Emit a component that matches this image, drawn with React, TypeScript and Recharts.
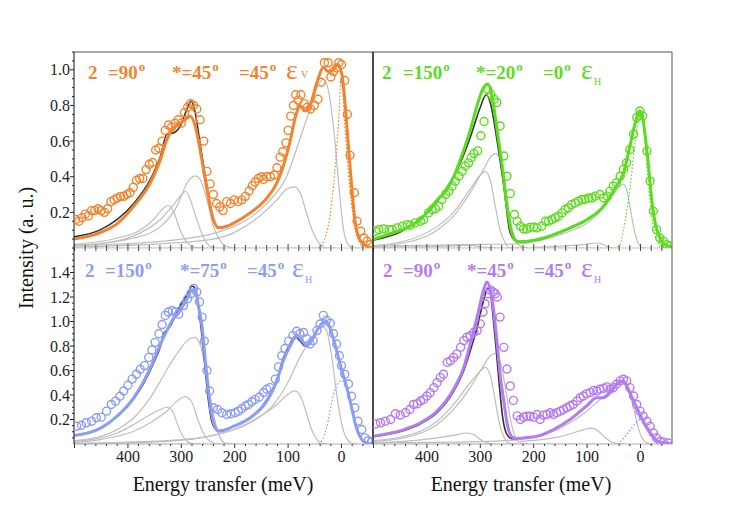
import React from "react";
import { ComposedChart, Line, Scatter, XAxis, YAxis } from "recharts";

type P = [number, number];

const ORANGE = "#F0842F";
const GREEN = "#5CDC1E";
const BLUE = "#8B9DF4";
const PURPLE = "#B57BF1";
const GRAY = "#BEBEBE";
const DARK = "#333333";

// ---- top left: 2θ=90°, θ*=45°, φ=45°, εV ----
const tlCircles: P[] = [
  [498, 0.16], [492, 0.15], [486, 0.17], [480, 0.19], [474, 0.18], [468, 0.21], [462, 0.21], [456, 0.22],
  [450, 0.21], [444, 0.2], [438, 0.22], [432, 0.26], [426, 0.27], [420, 0.28], [414, 0.29], [408, 0.29],
  [402, 0.3], [396, 0.31], [390, 0.34], [384, 0.38], [378, 0.39], [372, 0.39], [366, 0.44], [360, 0.47],
  [354, 0.48], [348, 0.55], [342, 0.56], [336, 0.6], [330, 0.66], [324, 0.69], [318, 0.68], [312, 0.7],
  [306, 0.72], [300, 0.7], [294, 0.76], [288, 0.79], [283, 0.81], [277, 0.8], [271, 0.78], [265, 0.72],
  [258, 0.6], [252, 0.43], [246, 0.36], [240, 0.3], [234, 0.25], [228, 0.23], [222, 0.21], [215, 0.26],
  [208, 0.25], [201, 0.27], [194, 0.26], [187, 0.27], [180, 0.29], [173, 0.32], [167, 0.35], [162, 0.37],
  [156, 0.39], [150, 0.4], [146, 0.385], [140, 0.4], [133, 0.4], [126, 0.41], [121, 0.45], [115, 0.51],
  [110, 0.54], [104, 0.59], [100, 0.66], [95, 0.74], [90, 0.8], [86, 0.86], [81, 0.83], [76, 0.86],
  [70, 0.81], [64, 0.79], [58, 0.78], [51, 0.8], [44, 0.835], [38, 0.93], [32, 1.04], [25, 1.04],
  [20, 0.96], [15, 0.99], [9, 1.01], [5, 1.04], [0, 1.03], [-6, 0.94], [-11, 0.75], [-16, 0.52],
  [-24, 0.31], [-29, 0.15], [-36, 0.094], [-42, 0.056], [-48, 0.038], [-54, 0.02],
];
const tlFit: P[] = [
  [502, 0.05], [451, 0.088], [420, 0.137], [389, 0.235], [358, 0.366], [339, 0.497], [327, 0.61], [314, 0.675],
  [302, 0.7], [289, 0.73], [283, 0.74], [274, 0.685], [265, 0.553], [252, 0.33], [240, 0.16], [230, 0.113],
  [215, 0.122], [202, 0.14], [171, 0.197], [140, 0.28], [121, 0.366], [109, 0.46], [97, 0.59], [84, 0.76],
  [78, 0.8], [69, 0.77], [59, 0.8], [46, 0.93], [34, 1.013], [25, 0.99], [15, 1.0], [8, 1.03], [0, 0.985],
  [-6, 0.835], [-12, 0.61], [-19, 0.347], [-25, 0.16], [-34, 0.047], [-47, 0.01], [-60, 0],
];
const tlBlack: P[] = [
  [502, 0.062], [451, 0.103], [420, 0.16], [389, 0.25], [358, 0.385], [339, 0.515], [327, 0.64], [314, 0.647],
  [302, 0.685], [292, 0.76], [282, 0.825], [274, 0.76], [265, 0.59], [252, 0.347], [240, 0.16], [230, 0.11],
];
const tlElastic: P[] = [
  [502, 0], [44, 0], [28, 0.084], [15, 0.347], [6, 0.685], [0, 0.96], [-6, 0.69], [-15, 0.35], [-28, 0.08],
  [-44, 0], [-60, 0],
];
const tlGray1: P[] = [
  [502, 0.02], [420, 0.056], [377, 0.1], [352, 0.16], [333, 0.225], [325, 0.24], [314, 0.2], [302, 0.1],
  [289, 0.03], [277, 0.005], [260, 0],
];
const tlGray2: P[] = [
  [502, 0.013], [420, 0.04], [377, 0.085], [339, 0.16], [314, 0.245], [296, 0.31], [292, 0.32], [283, 0.27],
  [271, 0.16], [258, 0.056], [246, 0.01], [235, 0],
];
const tlGray3: P[] = [
  [502, 0.013], [389, 0.056], [339, 0.12], [308, 0.235], [289, 0.366], [274, 0.405], [265, 0.385], [252, 0.27],
  [240, 0.12], [227, 0.04], [215, 0.01], [200, 0],
];
const tlGray4: P[] = [
  [502, 0.005], [265, 0.04], [202, 0.085], [153, 0.18], [121, 0.27], [103, 0.33], [87, 0.343], [75, 0.29],
  [66, 0.2], [53, 0.085], [40, 0.02], [27, 0], [10, 0],
];
const tlGray5: P[] = [
  [502, 0.013], [327, 0.04], [202, 0.12], [140, 0.25], [103, 0.4], [78, 0.61], [59, 0.78], [43, 0.92],
  [34, 0.947], [25, 0.89], [15, 0.68], [6, 0.385], [-3, 0.12], [-12, 0.02], [-22, 0], [-40, 0],
];

// ---- top right: 2θ=150°, θ*=20°, φ=0°, εH ----
const trCircles: P[] = [
  [496, 0.094], [490, 0.103], [481, 0.107], [471, 0.103], [465, 0.103], [456, 0.113], [446, 0.122], [437, 0.131],
  [431, 0.128], [422, 0.141], [412, 0.15], [406, 0.159], [397, 0.197], [390, 0.216], [384, 0.22], [378, 0.235],
  [372, 0.272], [365, 0.3], [359, 0.319], [353, 0.347], [347, 0.375], [340, 0.403], [334, 0.43], [328, 0.46],
  [322, 0.478], [317, 0.507], [312, 0.53], [305, 0.545], [299, 0.63], [293, 0.71], [286, 0.89], [280, 0.86],
  [274, 0.835], [269, 0.816], [263, 0.685], [256, 0.516], [250, 0.403], [244, 0.306], [236, 0.188], [231, 0.15],
  [225, 0.122], [219, 0.107], [213, 0.107], [207, 0.116], [200, 0.118], [194, 0.113], [185, 0.122], [178, 0.15],
  [172, 0.15], [166, 0.159], [160, 0.169], [154, 0.178], [147, 0.197], [141, 0.216], [135, 0.225], [129, 0.244],
  [122, 0.253], [116, 0.263], [110, 0.272], [104, 0.272], [97, 0.281], [91, 0.281], [85, 0.291], [76, 0.3],
  [69, 0.281], [62, 0.291], [57, 0.319], [51, 0.347], [45, 0.366], [38, 0.403], [32, 0.441], [26, 0.478],
  [20, 0.553], [13, 0.638], [7, 0.732], [1, 0.769], [-4, 0.741], [-12, 0.544], [-18, 0.375], [-24, 0.206],
  [-30, 0.103], [-36, 0.056], [-43, 0.038], [-49, 0.019], [-55, 0.013],
];
const trFit: P[] = [
  [502, 0.047], [474, 0.075], [443, 0.107], [412, 0.16], [381, 0.27], [362, 0.33], [350, 0.4], [337, 0.5],
  [319, 0.66], [306, 0.8], [294, 0.9], [286, 0.92], [278, 0.85], [269, 0.67], [259, 0.46], [250, 0.235],
  [241, 0.084], [231, 0.038], [219, 0.036], [194, 0.047], [163, 0.075], [132, 0.113], [100, 0.16], [69, 0.235],
  [45, 0.35], [32, 0.42], [20, 0.57], [10, 0.7], [2, 0.77], [-2, 0.76], [-8, 0.65], [-15, 0.46], [-21, 0.27],
  [-29, 0.12], [-38, 0.047], [-49, 0.015], [-60, 0.004],
];
const trBlack: P[] = [
  [502, 0.043], [443, 0.1], [381, 0.26], [337, 0.48], [319, 0.62], [300, 0.79], [289, 0.86], [280, 0.8],
  [269, 0.61], [256, 0.347], [244, 0.084], [231, 0.035], [194, 0.045], [163, 0.073], [132, 0.11], [100, 0.158],
  [69, 0.232],
];
const trElastic: P[] = [
  [502, 0], [48, 0], [38, 0.02], [32, 0.1], [20, 0.33], [10, 0.59], [4, 0.72], [0, 0.75], [-5, 0.7],
  [-12, 0.46], [-20, 0.2], [-30, 0.05], [-40, 0], [-60, 0],
];
const trGray1: P[] = [
  [502, 0.013], [443, 0.038], [381, 0.12], [350, 0.2], [319, 0.33], [300, 0.41], [291, 0.43], [281, 0.375],
  [272, 0.235], [263, 0.1], [253, 0.028], [244, 0], [220, 0],
];
const trGray2: P[] = [
  [502, 0.01], [443, 0.028], [381, 0.1], [350, 0.18], [319, 0.31], [294, 0.44], [281, 0.51], [272, 0.53],
  [263, 0.5], [253, 0.35], [244, 0.16], [234, 0.047], [225, 0.01], [210, 0],
];
const trGray3: P[] = [
  [502, 0.005], [400, 0.008], [340, 0.013], [320, 0.016], [305, 0.01], [290, 0.003], [270, 0],
];
const trGray4: P[] = [
  [200, 0.003], [140, 0.012], [100, 0.022], [82, 0.028], [70, 0.02], [60, 0.005], [50, 0],
];
const trGray5: P[] = [
  [502, 0.01], [300, 0.02], [225, 0.024], [163, 0.062], [132, 0.094], [100, 0.14], [69, 0.225], [51, 0.3],
  [38, 0.347], [32, 0.357], [26, 0.33], [20, 0.235], [13, 0.12], [7, 0.047], [-2, 0.005], [-10, 0],
];

// ---- bottom left: 2θ=150°, θ*=75°, φ=45°, εH ----
const blCircles: P[] = [
  [496, 0.145], [487, 0.153], [478, 0.173], [468, 0.186], [459, 0.214], [450, 0.219], [440, 0.268], [431, 0.323],
  [423, 0.35], [415, 0.39], [408, 0.433], [400, 0.48], [392, 0.53], [384, 0.57], [377, 0.61], [369, 0.64],
  [361, 0.707], [355, 0.767], [349, 0.83], [342, 0.9], [336, 0.975], [330, 1.05], [324, 1.077], [317, 1.09],
  [311, 1.077], [305, 1.06], [296, 1.13], [288, 1.186], [282, 1.227], [277, 1.27], [271, 1.24], [266, 1.16],
  [261, 1.036], [257, 0.84], [252, 0.6], [247, 0.433], [240, 0.296], [232, 0.282], [224, 0.255], [215, 0.241],
  [207, 0.247], [199, 0.255], [193, 0.268], [187, 0.288], [180, 0.31], [174, 0.323], [168, 0.345], [162, 0.364],
  [154, 0.384], [146, 0.42], [140, 0.447], [134, 0.46], [124, 0.53], [118, 0.63], [112, 0.72], [106, 0.78],
  [99, 0.84], [91, 0.885], [84, 0.92], [78, 0.9], [71, 0.91], [65, 0.86], [59, 0.816], [53, 0.844],
  [46, 0.926], [40, 0.98], [34, 1.05], [28, 1.01], [21, 0.986], [15, 0.9], [9, 0.816], [4, 0.72],
  [0, 0.64], [-6, 0.57], [-13, 0.49], [-19, 0.39], [-25, 0.296], [-31, 0.186], [-38, 0.118], [-44, 0.05],
  [-50, 0.027], [-56, 0.016],
];
const blFit: P[] = [
  [502, 0.068], [451, 0.13], [420, 0.227], [389, 0.378], [370, 0.515], [352, 0.68], [339, 0.816], [327, 0.926],
  [314, 1.03], [302, 1.09], [289, 1.186], [280, 1.26], [274, 1.255], [268, 1.13], [261, 0.953], [255, 0.68],
  [249, 0.433], [243, 0.241], [236, 0.13], [230, 0.104], [221, 0.11], [202, 0.145], [171, 0.214], [140, 0.35],
  [121, 0.515], [109, 0.68], [96, 0.8], [84, 0.885], [74, 0.844], [65, 0.8], [56, 0.844], [46, 0.926],
  [34, 0.995], [28, 1.0], [18, 0.9], [9, 0.76], [0, 0.61], [-10, 0.46], [-19, 0.296], [-28, 0.13],
  [-38, 0.036], [-47, 0.008], [-60, 0],
];
const blBlack: P[] = [
  [420, 0.225], [389, 0.37], [370, 0.5], [352, 0.66], [339, 0.8], [333, 0.9], [327, 0.93], [321, 0.96],
  [314, 1.02], [302, 1.13], [289, 1.22], [280, 1.29], [274, 1.27], [268, 1.12], [261, 0.87], [255, 0.6],
  [249, 0.35], [243, 0.186], [236, 0.123], [230, 0.11], [221, 0.115], [202, 0.145], [171, 0.214], [140, 0.36],
  [121, 0.53], [109, 0.7], [96, 0.82], [87, 0.877], [78, 0.844], [68, 0.8], [59, 0.82], [46, 0.926],
];
const blElastic: P[] = [
  [502, 0], [44, 0], [28, 0.13], [15, 0.405], [6, 0.5], [0, 0.515], [-10, 0.45], [-19, 0.283], [-28, 0.13],
  [-38, 0.036], [-47, 0.005], [-60, 0],
];
const blGray1: P[] = [
  [502, 0.022], [451, 0.05], [420, 0.09], [389, 0.159], [358, 0.241], [339, 0.282], [327, 0.3], [317, 0.27],
  [308, 0.173], [299, 0.077], [289, 0.022], [280, 0.003], [265, 0],
];
const blGray2: P[] = [
  [502, 0.014], [451, 0.036], [389, 0.104], [358, 0.173], [327, 0.27], [308, 0.35], [293, 0.386], [280, 0.337],
  [268, 0.186], [255, 0.063], [243, 0.014], [233, 0], [220, 0],
];
const blGray3: P[] = [
  [502, 0.027], [451, 0.063], [420, 0.118], [389, 0.214], [358, 0.378], [339, 0.515], [321, 0.652], [302, 0.775],
  [289, 0.844], [275, 0.87], [264, 0.8], [255, 0.625], [246, 0.378], [236, 0.173], [227, 0.05], [218, 0.008],
  [205, 0],
];
const blGray4: P[] = [
  [502, 0.003], [327, 0.022], [265, 0.05], [202, 0.118], [152, 0.227], [121, 0.323], [102, 0.4], [87, 0.433],
  [74, 0.364], [65, 0.241], [56, 0.118], [46, 0.036], [37, 0.005], [25, 0],
];
const blGray5: P[] = [
  [502, 0.005], [327, 0.027], [233, 0.077], [171, 0.173], [127, 0.323], [102, 0.488], [78, 0.707], [59, 0.844],
  [46, 0.926], [37, 0.967], [28, 0.926], [18, 0.707], [9, 0.405], [0, 0.173], [-9, 0.05], [-19, 0.008], [-30, 0],
];

// ---- bottom right: 2θ=90°, θ*=45°, φ=45°, εH ----
const brCircles: P[] = [
  [496, 0.164], [487, 0.173], [478, 0.186], [468, 0.2], [459, 0.247], [450, 0.236], [440, 0.255], [432, 0.282],
  [425, 0.323], [418, 0.329], [412, 0.351], [406, 0.364], [400, 0.392], [394, 0.419], [387, 0.46], [381, 0.501],
  [375, 0.542], [369, 0.57], [362, 0.666], [356, 0.679], [350, 0.707], [344, 0.734], [337, 0.789], [331, 0.844],
  [325, 0.871], [319, 0.885], [312, 0.912], [306, 0.926], [300, 0.981], [295, 1.077], [291, 1.145], [286, 1.227],
  [281, 1.255], [276, 1.241], [272, 1.227], [268, 1.2], [263, 1.036], [256, 0.789], [250, 0.612], [244, 0.474],
  [238, 0.356], [231, 0.23], [225, 0.2], [219, 0.219], [213, 0.227], [207, 0.227], [200, 0.219], [194, 0.241],
  [188, 0.2], [182, 0.236], [175, 0.241], [169, 0.255], [163, 0.241], [157, 0.255], [150, 0.268], [144, 0.282],
  [138, 0.296], [132, 0.31], [126, 0.323], [119, 0.351], [113, 0.378], [107, 0.392], [101, 0.411], [94, 0.419],
  [88, 0.438], [82, 0.433], [76, 0.447], [69, 0.455], [63, 0.466], [57, 0.447], [51, 0.46], [45, 0.488],
  [38, 0.515], [32, 0.529], [26, 0.515], [20, 0.46], [13, 0.392], [7, 0.323], [1, 0.268], [-5, 0.227],
  [-12, 0.186], [-18, 0.145], [-24, 0.09], [-30, 0.049], [-37, 0.022], [-43, 0.014], [-52, 0.008],
];
const brFit: P[] = [
  [502, 0.063], [443, 0.118], [412, 0.173], [381, 0.268], [350, 0.447], [331, 0.625], [319, 0.816], [306, 1.036],
  [294, 1.255], [288, 1.323], [281, 1.255], [275, 1.09], [269, 0.844], [263, 0.57], [256, 0.35], [250, 0.173],
  [244, 0.077], [235, 0.044], [219, 0.05], [194, 0.063], [163, 0.118], [132, 0.2], [101, 0.31], [82, 0.378],
  [69, 0.378], [57, 0.42], [45, 0.488], [35, 0.515], [29, 0.5], [20, 0.42], [10, 0.323], [1, 0.241],
  [-8, 0.159], [-18, 0.09], [-27, 0.041], [-36, 0.016], [-60, 0.004],
];
const brBlack: P[] = [
  [502, 0.06], [443, 0.11], [412, 0.165], [381, 0.255], [350, 0.43], [331, 0.6], [319, 0.76], [306, 0.95],
  [294, 1.17], [286, 1.27], [281, 1.23], [276, 1.036], [270, 0.76], [264, 0.46], [258, 0.214], [250, 0.077],
  [241, 0.044], [232, 0.044],
];
const brElastic: P[] = [
  [502, 0], [45, 0], [26, 0.077], [11, 0.16], [4, 0.19], [-2, 0.2], [-8, 0.18], [-18, 0.118], [-30, 0.036],
  [-42, 0.005], [-60, 0],
];
const brGray1: P[] = [
  [502, 0.011], [443, 0.022], [381, 0.05], [350, 0.071], [325, 0.09], [312, 0.077], [300, 0.036], [287, 0.01],
  [275, 0],
];
const brGray2: P[] = [
  [502, 0.027], [443, 0.063], [381, 0.186], [350, 0.323], [319, 0.5], [300, 0.597], [291, 0.625], [281, 0.556],
  [272, 0.35], [263, 0.145], [253, 0.036], [244, 0.005], [230, 0],
];
const brGray3: P[] = [
  [502, 0.022], [443, 0.05], [381, 0.159], [350, 0.282], [319, 0.46], [294, 0.64], [281, 0.72], [272, 0.74],
  [263, 0.68], [253, 0.46], [244, 0.214], [235, 0.063], [225, 0.01], [210, 0],
];
const brGray4: P[] = [
  [225, 0.022], [163, 0.05], [132, 0.082], [107, 0.118], [91, 0.13], [79, 0.104], [69, 0.063], [57, 0.022],
  [44, 0.005], [30, 0],
];
const brGray5: P[] = [
  [502, 0.01], [300, 0.02], [225, 0.036], [163, 0.104], [132, 0.173], [101, 0.268], [69, 0.39], [51, 0.46],
  [32, 0.5], [23, 0.447], [13, 0.296], [4, 0.13], [-5, 0.036], [-15, 0.005], [-25, 0],
];

// axes
const X_DOMAIN: [number, number] = [-59, 501];
const xLabels = [400, 300, 200, 100, 0];
const yLabelsTop = [0.2, 0.4, 0.6, 0.8, 1];
const yLabelsBottom = [0.2, 0.4, 0.6, 0.8, 1, 1.2, 1.4];

const steps = (a: number, b: number, s: number) => {
  const out: number[] = [];
  for (let v = a; v <= b + 1e-9; v += s) out.push(Math.round(v * 100) / 100);
  return out;
};
const xTicks = steps(-40, 500, 20);
const yTicksTop = steps(0.05, 1.1, 0.05);
const yTicksBottom = steps(0.05, 1.6, 0.05);

const FONT = "'Liberation Serif', 'DejaVu Serif', serif";
// each axis takes 1px, so the plot area starts at (60, 10) inside every chart
const ML = 59, MR = 9, MT = 9, MB = 29, PW = 299, PH = 196;

const rows = (pts: P[]) => pts.map(([e, v]) => ({ e, v }));

type PanelProps = {
  left: number;
  top: number;
  yMax: number;
  yTicks: number[];
  yLabels: number[];
  color: string;
  circles: P[];
  fit: P[];
  black: P[];
  elastic: P[];
  grays: P[][];
  leftCol: boolean;
  bottomRow: boolean;
};

function Panel(p: PanelProps) {
  const xTick = (props: any) => {
    const { x, y, payload } = props;
    const v = payload.value as number;
    const major = v % 100 === 0;
    if (p.bottomRow) {
      return (
        <g>
          <line x1={x} x2={x} y1={y} y2={y + (major ? 4 : 2)} stroke="#333" />
          {xLabels.includes(v) && (
            <text x={x} y={y + 18} textAnchor="middle" fontSize={16} style={{ fontFamily: FONT }} fill="#222">
              {v}
            </text>
          )}
        </g>
      );
    }
    return <line x1={x} x2={x} y1={y - (major ? 4 : 3)} y2={y + 3} stroke="#444" />;
  };
  const yTick = (props: any) => {
    const { x, y, payload } = props;
    const v = payload.value as number;
    const major = p.yLabels.includes(v);
    return (
      <g>
        <line x1={x - (major ? 4 : 2)} x2={x} y1={y} y2={y} stroke="#222" />
        {major && (
          <text x={x - 4} y={y} dy="0.35em" textAnchor="end" fontSize={16} style={{ fontFamily: FONT }} fill="#222">
            {v.toFixed(1)}
          </text>
        )}
      </g>
    );
  };
  const common = { xAxisId: "b", yAxisId: "l", dataKey: "v", dot: false, isAnimationActive: false } as const;
  return (
    <div style={{ position: "absolute", left: p.left - ML - 1, top: p.top - MT - 1 }}>
      <ComposedChart
        width={PW + ML + MR + 2}
        height={PH + MT + MB + 2}
        margin={{ top: MT, right: MR, bottom: MB, left: ML }}
      >
        <XAxis
          xAxisId="b"
          type="number"
          dataKey="e"
          domain={X_DOMAIN}
          reversed
          allowDataOverflow
          ticks={xTicks}
          interval={0}
          height={1}
          tickSize={0}
          tickMargin={0}
          tickLine={false}
          axisLine={{ stroke: p.bottomRow ? "#b0b0b0" : "#c4c4c4" }}
          tick={xTick}
        />
        <XAxis
          xAxisId="t"
          orientation="top"
          type="number"
          domain={X_DOMAIN}
          reversed
          allowDataOverflow
          height={1}
          tick={false}
          tickLine={false}
          axisLine={p.bottomRow ? false : { stroke: "#555" }}
        />
        <YAxis
          yAxisId="l"
          type="number"
          dataKey="v"
          domain={[0, p.yMax]}
          allowDataOverflow
          ticks={p.yTicks}
          interval={0}
          width={1}
          tickSize={0}
          tickMargin={0}
          tickLine={false}
          axisLine={{ stroke: "#111" }}
          tick={p.leftCol ? yTick : false}
        />
        <YAxis
          yAxisId="r"
          orientation="right"
          type="number"
          domain={[0, p.yMax]}
          allowDataOverflow
          width={1}
          tick={false}
          tickLine={false}
          axisLine={{ stroke: p.leftCol ? "#111" : "#555" }}
        />
        {p.grays.map((g, i) => (
          <Line key={i} {...common} data={rows(g)} type="monotone" stroke={GRAY} strokeWidth={1.2} />
        ))}
        <Line {...common} data={rows(p.elastic)} type="monotone" stroke={p.color} strokeWidth={1.2} strokeDasharray="1.5 2" />
        <Line {...common} data={rows(p.black)} type="monotone" stroke={DARK} strokeWidth={1.6} />
        <Line {...common} data={rows(p.fit)} type="monotone" stroke={p.color} strokeWidth={3} />
        <Scatter
          xAxisId="b"
          yAxisId="l"
          data={rows(p.circles)}
          isAnimationActive={false}
          shape={(s: any) => <circle cx={s.cx} cy={s.cy} r={4} fill="none" stroke={p.color} strokeWidth={1.4} />}
        />
      </ComposedChart>
    </div>
  );
}

// xs: start of each bold piece, then ε, then the subscript
function Legend({ y, color, xs, parts, sub, subY }: { y: number; color: string; xs: number[]; parts: string[]; sub: string; subY: number }) {
  return (
    <g fill={color} style={{ fontFamily: FONT }}>
      {parts.map((t, i) => (
        <text key={i} x={xs[i]} y={y} fontSize={19} fontWeight="bold">
          {t}
          {i > 0 && (
            <tspan dx={1} dy={-8} fontSize={13}>
              o
            </tspan>
          )}
        </text>
      ))}
      <text x={xs[parts.length]} y={y} fontSize={28}>ε</text>
      <text x={xs[parts.length + 1]} y={subY} fontSize={10}>{sub}</text>
    </g>
  );
}

export default function App() {
  return (
    <div style={{ position: "absolute", left: 0, top: 0, width: 747, height: 523, background: "#fff" }}>
      <Panel left={74} top={52} yMax={1.1} yTicks={yTicksTop} yLabels={yLabelsTop} color={ORANGE}
        circles={tlCircles} fit={tlFit} black={tlBlack} elastic={tlElastic}
        grays={[tlGray1, tlGray2, tlGray3, tlGray4, tlGray5]} leftCol bottomRow={false} />
      <Panel left={373} top={52} yMax={1.1} yTicks={yTicksTop} yLabels={yLabelsTop} color={GREEN}
        circles={trCircles} fit={trFit} black={trBlack} elastic={trElastic}
        grays={[trGray1, trGray2, trGray3, trGray4, trGray5]} leftCol={false} bottomRow={false} />
      <Panel left={74} top={248} yMax={1.6} yTicks={yTicksBottom} yLabels={yLabelsBottom} color={BLUE}
        circles={blCircles} fit={blFit} black={blBlack} elastic={blElastic}
        grays={[blGray1, blGray2, blGray3, blGray4, blGray5]} leftCol bottomRow />
      <Panel left={373} top={248} yMax={1.6} yTicks={yTicksBottom} yLabels={yLabelsBottom} color={PURPLE}
        circles={brCircles} fit={brFit} black={brBlack} elastic={brElastic}
        grays={[brGray1, brGray2, brGray3, brGray4, brGray5]} leftCol={false} bottomRow />
      <svg width={747} height={523} style={{ position: "absolute", left: 0, top: 0, pointerEvents: "none" }}>
        <Legend y={79} color={ORANGE} xs={[88, 108, 172, 239, 286, 301]}
          parts={["2", "=90", "*=45", "=45"]} sub="V" subY={78} />
        <Legend y={79} color={GREEN} xs={[382, 403, 476, 543, 581, 594]}
          parts={["2", "=150", "*=20", "=0"]} sub="H" subY={85} />
        <Legend y={277} color={BLUE} xs={[85, 105, 180, 247, 292, 305]}
          parts={["2", "=150", "*=75", "=45"]} sub="H" subY={283} />
        <Legend y={277} color={PURPLE} xs={[383, 403, 467, 534, 581, 594]}
          parts={["2", "=90", "*=45", "=45"]} sub="H" subY={283} />
        <text x={33} y={248} transform="rotate(-90 33 248)" textAnchor="middle" fontSize={20} style={{ fontFamily: FONT }} fill="#111">
          Intensity (a. u.)
        </text>
        <text x={223} y={491} textAnchor="middle" fontSize={20} style={{ fontFamily: FONT }} fill="#111">
          Energy transfer (meV)
        </text>
        <text x={521} y={491} textAnchor="middle" fontSize={20} style={{ fontFamily: FONT }} fill="#111">
          Energy transfer (meV)
        </text>
      </svg>
    </div>
  );
}
